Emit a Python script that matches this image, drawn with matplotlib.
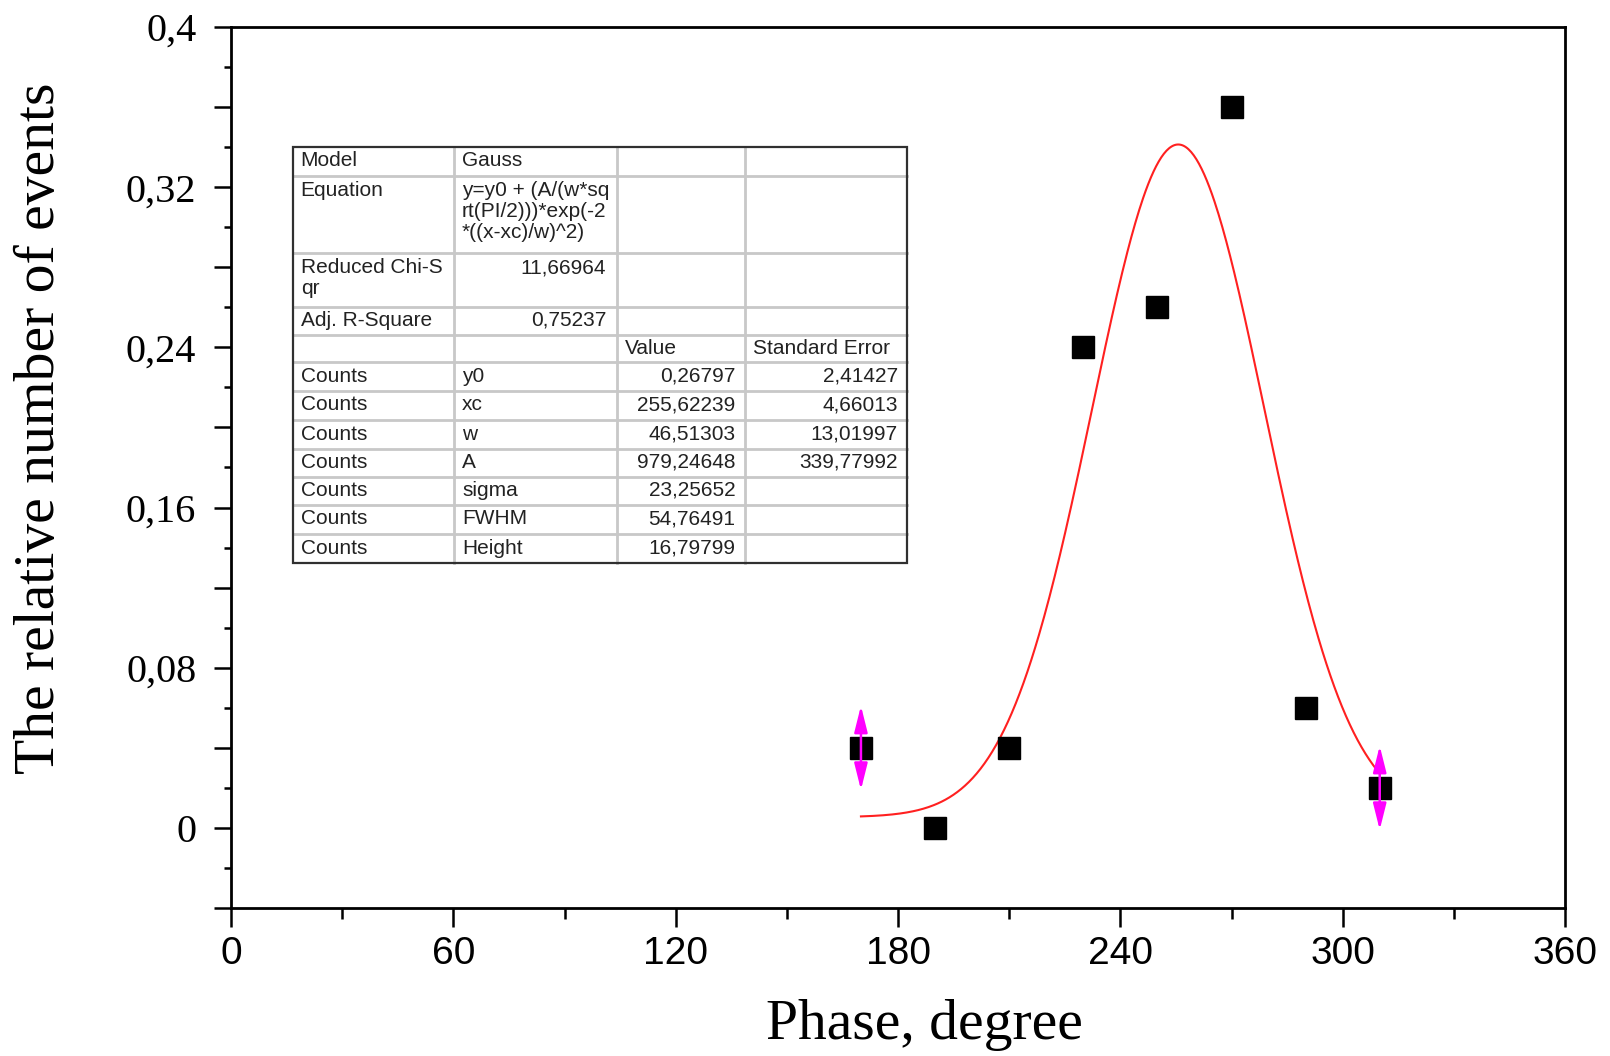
import numpy as np
import matplotlib
matplotlib.use("Agg")
import matplotlib.pyplot as plt
from matplotlib.lines import Line2D
from matplotlib.patches import Rectangle
from matplotlib.ticker import FixedLocator, MultipleLocator

# ---------------- data ----------------
phase = [170, 190, 210, 230, 250, 270, 290, 310]
rel_events = [0.04, 0.0, 0.04, 0.24, 0.26, 0.36, 0.06, 0.02]

arrow_phase = [170, 310]
arrow_low = [0.019, -0.001]
arrow_high = [0.061, 0.041]

# Gauss fit parameters (from the table, in counts)
fit_y0 = 0.26797
fit_xc = 255.62239
fit_w = 46.51303
fit_A = 979.24648
total_events = 50          # counts -> relative number
fit_range = [170, 310]

x_ticks = [0, 60, 120, 180, 240, 300, 360]
x_ticklabels = ["0", "60", "120", "180", "240", "300", "360"]
y_ticks = [-0.04, 0.0, 0.04, 0.08, 0.12, 0.16, 0.20, 0.24, 0.28, 0.32, 0.36, 0.40]
y_ticklabels = ["", "0", "", "0,08", "", "0,16", "", "0,24", "", "0,32", "", "0,4"]

table_rows = [
    ["Model", "Gauss", "", ""],
    ["Equation", "y=y0 + (A/(w*sq\nrt(PI/2)))*exp(-2\n*((x-xc)/w)^2)", "", ""],
    ["Reduced Chi-S\nqr", "11,66964", "", ""],
    ["Adj. R-Square", "0,75237", "", ""],
    ["", "", "Value", "Standard Error"],
    ["Counts", "y0", "0,26797", "2,41427"],
    ["Counts", "xc", "255,62239", "4,66013"],
    ["Counts", "w", "46,51303", "13,01997"],
    ["Counts", "A", "979,24648", "339,77992"],
    ["Counts", "sigma", "23,25652", ""],
    ["Counts", "FWHM", "54,76491", ""],
    ["Counts", "Height", "16,79799", ""],
]

# ---------------- figure ----------------
W, H = 1610, 1056
fig = plt.figure(figsize=(W / 100, H / 100), dpi=100)
ax = fig.add_axes([231 / W, 1 - 908 / H, (1565 - 231) / W, (908 - 27) / H])

serif = ["Liberation Serif", "DejaVu Serif"]
sans = ["Liberation Sans", "DejaVu Sans"]

# fit curve
xf = np.linspace(fit_range[0], fit_range[1], 400)
yf = (fit_y0 + fit_A / (fit_w * np.sqrt(np.pi / 2)) *
      np.exp(-2 * ((xf - fit_xc) / fit_w) ** 2)) / total_events
ax.plot(xf, yf, color="#ff2020", lw=1.5, zorder=3)

# data points
ax.plot(phase, rel_events, linestyle="none", marker="s", markersize=16,
        color="black", zorder=4)

# magenta double arrows
for xa, lo, hi in zip(arrow_phase, arrow_low, arrow_high):
    ax.annotate("", xy=(xa, hi), xytext=(xa, lo),
                arrowprops=dict(arrowstyle="<|-|>,head_length=0.8,head_width=0.2",
                                color="#ff00ff", lw=1.8, mutation_scale=20,
                                shrinkA=0, shrinkB=0),
                zorder=5)

ax.set_xlim(0, 360)
ax.set_ylim(-0.04, 0.4)

ax.xaxis.set_major_locator(FixedLocator(x_ticks))
ax.set_xticklabels(x_ticklabels)
ax.xaxis.set_minor_locator(MultipleLocator(30))
ax.yaxis.set_major_locator(FixedLocator(y_ticks))
ax.set_yticklabels(y_ticklabels)
ax.yaxis.set_minor_locator(MultipleLocator(0.02))

for sp in ax.spines.values():
    sp.set_linewidth(2.0)
ax.tick_params(axis="x", which="major", direction="out", length=13.5,
               width=1.8, color="black", pad=7)
ax.tick_params(axis="x", which="minor", direction="out", length=8,
               width=1.8, color="black")
ax.tick_params(axis="y", which="major", direction="out", length=12,
               width=1.8, color="black", pad=13)
ax.tick_params(axis="y", which="minor", direction="out", length=5,
               width=1.8, color="black")

for lbl in ax.get_xticklabels():
    lbl.set_fontfamily(sans)
    lbl.set_fontsize(28)
for lbl in ax.get_yticklabels():
    lbl.set_fontfamily(serif)
    lbl.set_fontsize(29)

fig.text(40 / W, 1 - 428 / H, "The relative number of events", rotation=90,
         ha="center", va="center", fontsize=41.5, family=serif)
fig.text(924 / W, 1 - 1025 / H, "Phase, degree", ha="center", va="center",
         fontsize=41.5, family=serif)

# ---------------- fit table ----------------
col_x = [292.7, 454, 617, 744.5, 906.7]
row_y = [147, 176, 253.5, 306.5, 334.5, 362, 391, 420, 448.5, 476.5, 505, 534, 563]

def fx(x):
    return x / W

def fy(y):
    return 1 - y / H

fig.add_artist(Rectangle((fx(col_x[0]), fy(row_y[-1])),
                         fx(col_x[-1]) - fx(col_x[0]), fy(row_y[0]) - fy(row_y[-1]),
                         transform=fig.transFigure, facecolor="white",
                         edgecolor="none", zorder=6))
for yy in row_y[1:-1]:
    fig.add_artist(Line2D([fx(col_x[0]), fx(col_x[-1])], [fy(yy), fy(yy)],
                          transform=fig.transFigure, color="#c8c8c8", lw=2.0, zorder=7))
for xx in col_x[1:-1]:
    fig.add_artist(Line2D([fx(xx), fx(xx)], [fy(row_y[0]), fy(row_y[-1])],
                          transform=fig.transFigure, color="#c8c8c8", lw=2.0, zorder=7))
fig.add_artist(Rectangle((fx(col_x[0]), fy(row_y[-1])),
                         fx(col_x[-1]) - fx(col_x[0]), fy(row_y[0]) - fy(row_y[-1]),
                         transform=fig.transFigure, facecolor="none",
                         edgecolor="#303030", lw=1.6, zorder=8))

for r, row in enumerate(table_rows):
    top = row_y[r]
    for c, txt in enumerate(row):
        if not txt:
            continue
        numeric = txt[0].isdigit()
        for k, line in enumerate(txt.split("\n")):
            yc = top + 14 + 21.5 * k
            if numeric:
                pad = 11 if c == 1 else 9
                x = col_x[c + 1] - pad
                ha = "right"
            else:
                x = col_x[c] + 8
                ha = "left"
            fig.text(fx(x), fy(yc), line, ha=ha, va="center", fontsize=15,
                     family=sans, color="#222222", zorder=9)

fig.savefig("out.png", dpi=100, facecolor="white")
